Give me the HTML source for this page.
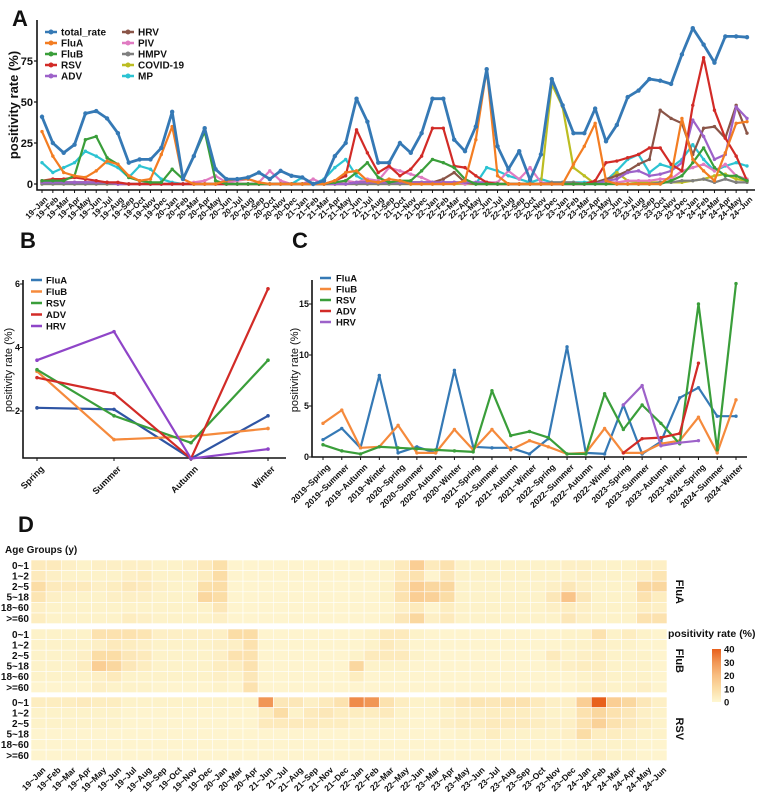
<!DOCTYPE html>
<html><head><meta charset="utf-8"><style>
body{margin:0;background:#fff;}
svg{display:block;font-family:"Liberation Sans",Arial,sans-serif;}
</style></head><body>
<svg id="fig" width="767" height="797" viewBox="0 0 767 797"></svg>
<script>
// ---------- Panel A data ----------
const monthsA = (function(){const m=["Jan","Feb","Mar","Apr","May","Jun","Jul","Aug","Sep","Oct","Nov","Dec"];const r=[];for(let y=19;y<=24;y++){for(let i=0;i<12;i++){if(y===24&&i>5)break;r.push(y+"~"+m[i]);}}return r;})();
const seriesNamesA = ["total_rate","FluA","FluB","RSV","ADV","HRV","PIV","HMPV","COVID-19","MP"];
const colorsA = ["#3579b5","#f37d22","#3a9e3a","#d22b27","#9d62c9","#8a5548","#e07bc2","#7f7f7f","#bcbd22","#2cc3d2"];
const totalRate = [41,25,19,24,43,44.5,40,31,13,15,15,22,44,3,17,34,9,3,3,4,7,3,8,5,4,0,2,17,25,52,38,13,13,25,19,31,52,52,27,20,35,70,23,9,20,2.5,18,64,48,31,31,46,26,36,53,57,64,63,61,79,95,85,74,90,90,89.5];
const fluA = [32,17,7,5,4,8,14,12,5,2,3,18,35,3,0,0,0,2,3,3,1,0,0,0,0,0,0,2,7,8,2,1,3,2,0,0,0,0,0,2,27,70,5,0,0,0,0,0,0,12,23,37,2,0,0,0,0,0,5,40,15,8,2,19,37,38];
const fluB = [2,2,2,5,27,29,16,12,4,2,1,1,9,3,17,32,2,0,0,0,0,0,0,0,0,0,0,1,2,7,13,4,1,2,2,8,15,13,10,3,0,0,0,0,0,0,0,0,0,0,0,0,0,0,0,0,0,0,2,5,13,22,10,5,5,2];
const rsv = [2,3,3,4,3,2,1,1,0,0,0,0,0,0,0,0,0,0,0,0,0,0,0,0,0,0,0,2,5,33,19,7,11,5,9,17,34,34,11,10,5,1,0,0,0,0,0,0,0,0,0,2,13,14,16,18,22,22,12,8,48,77,45,28,17,2];
const adv = [1,1,1,1,1,1,1,0,0,0,0,0,0,0,0,0,0,0,0,0,0,0,0,0,0,0,0,0,0,1,1,1,1,1,1,1,1,1,1,1,1,1,0,0,0,0,0,0,0,0,0,0,2,3,7,8,5,6,8,13,39,29,15,18,47,40];
const hrv = [1,1,1,1,1,1,1,0,0,0,0,0,0,0,0,0,0,0,0,0,0,0,0,0,0,0,0,0,0,1,1,1,1,1,1,1,1,3,7,1,0,0,0,0,0,0,0,0,0,0,0,1,3,5,8,12,15,45,40,37,18,34,35,28,48,31];
const piv = [1,1,1,1,1,1,1,0,0,0,0,0,0,0,1,2,5,1,2,3,1,8,2,0,0,3,0,0,2,1,3,2,10,8,6,4,1,1,1,0,1,1,1,8,3,10,1,0,0,0,0,1,1,1,2,2,2,3,3,8,10,12,8,12,5,3];
const hmpv = [0,0,0,0,0,0,0,0,0,0,0,0,0,0,0,0,0,0,0,0,0,0,0,0,0,0,0,0,0,0,0,0,0,0,0,0,0,0,1,1,0,0,0,0,0,0,0,1,1,1,0,0,0,0,0,0,0,1,1,2,2,3,1,3,1,1];
const covid = [0,0,0,0,0,0,0,0,0,0,0,0,0,0,0,0,0,0,0,0,0,0,0,0,0,0,0,0,0,0,0,0,0,0,0,0,0,0,0,0,0,0,0,0,0,0,0,61,47,10,5,0,0,7,2,1,1,1,1,1,2,3,5,6,3,2];
const mp = [13,7,10,13,20,17,13,10,4,11,9,3,1,0,0,0,0,0,0,0,0,0,0,0,4,0,3,10,15,5,1,1,1,1,1,1,1,1,1,0,0,10,8,5,3,1,3,1,1,1,1,1,2,8,15,18,7,12,10,15,24,15,8,11,13,11];
const ticksA = [0,25,50,75];

// ---------- Panel B data ----------
const seasonsB = ["Spring","Summer","Autumn","Winter"];
const namesB = ["FluA","FluB","RSV","ADV","HRV"];
const bFluA = [2.1,2.05,0.5,1.85];
const bFluB = [3.25,1.1,1.2,1.45];
const bRSV = [3.3,1.85,1.0,3.6];
const bADV = [3.05,2.55,0.5,5.85];
const bHRV = [3.6,4.5,0.5,0.8];
const ticksB = [2,4,6];

// ---------- Panel C data ----------
const seasonsC = ["2019~Spring","2019~Summer","2019~Autumn","2019~Winter","2020~Spring","2020~Summer","2020~Autumn","2020~Winter","2021~Spring","2021~Summer","2021~Autumn","2021~Winter","2022~Spring","2022~Summer","2022~Autumn","2022~Winter","2023~Spring","2023~Summer","2023~Autumn","2023~Winter","2024~Spring","2024~Summer","2024~Winter"];
const cFluA = [1.7,2.8,0.9,8.0,0.4,1.0,0.4,8.5,1.0,0.9,0.9,0.3,1.8,10.8,0.4,0.3,5.1,0.3,1.5,5.8,6.8,4.0,4.0];
const cFluB = [3.3,4.6,0.9,1.0,3.1,0.4,0.4,2.7,0.7,2.7,0.7,1.6,1.0,0.3,0.4,2.8,0.4,0.4,1.3,1.6,3.9,0.4,5.6];
const cRSV = [1.2,0.6,0.3,1.0,0.9,0.8,0.7,0.6,0.5,6.5,2.1,2.5,1.9,0.3,0.3,6.2,2.7,5.1,3.3,1.3,15.0,0.7,17.0];
const cADV = [null,null,null,null,null,null,null,null,null,null,null,null,null,null,null,null,0.4,1.8,1.9,2.3,9.2,null,null];
const cHRV = [null,null,null,null,null,null,null,null,null,null,null,null,null,null,null,null,5.1,7.0,1.1,1.4,1.6,null,null];
const ticksC = [0,5,10,15];

// ---------- Panel D data ----------
const monthsD = ["19~Jan","19~Feb","19~Mar","19~Apr","19~May","19~Jun","19~Jul","19~Aug","19~Sep","19~Oct","19~Nov","19~Dec","20~Jan","20~Mar","20~Apr","21~Jun","21~Jul","21~Aug","21~Sep","21~Nov","21~Dec","22~Jan","22~Feb","22~Mar","22~May","22~Jun","23~Mar","23~Apr","23~May","23~Jun","23~Jul","23~Aug","23~Sep","23~Oct","23~Nov","23~Dec","24~Jan","24~Feb","24~Mar","24~Apr","24~May","24~Jun"];
const ageGroups = ["0~1","1~2","2~5","5~18","18~60",">=60"];
const virusesD = ["FluA","FluB","RSV"];
const hmFluA = [
[5,5,3,2,3,3,3,3,2,2,3,5,9,1,1,1,1,1,1,1,1,1,1,2,5,15,5,8,2,2,2,2,2,2,2,3,3,2,2,2,4,3],
[5,3,2,2,2,2,3,4,2,2,2,4,10,1,1,1,1,1,1,1,1,1,1,1,5,8,1,6,2,2,2,2,2,2,2,2,3,2,2,2,3,7],
[10,5,5,5,3,4,6,5,3,2,2,9,10,1,1,1,1,1,1,1,1,1,1,2,8,15,12,12,2,2,2,2,2,2,3,6,3,2,2,2,12,12],
[7,3,2,2,2,3,3,3,2,2,2,12,10,1,1,1,1,1,1,1,1,1,1,2,8,15,14,10,2,2,2,2,2,2,6,18,6,2,2,2,8,4],
[3,2,2,2,2,2,2,2,2,2,2,2,6,1,1,1,1,1,1,1,1,1,1,1,3,5,1,4,2,2,2,2,2,2,3,4,3,2,2,2,4,3],
[4,2,2,2,2,2,4,3,2,2,2,2,3,1,1,1,1,1,1,1,1,1,1,2,6,12,3,5,2,2,2,2,2,2,2,6,3,2,2,2,8,8]];
const hmFluB = [
[2,2,2,2,8,8,8,7,3,3,3,3,3,10,10,1,1,1,1,1,1,1,2,5,5,2,1,1,1,1,1,1,1,1,1,2,2,8,2,4,2,1],
[2,2,2,2,3,5,4,3,2,2,2,2,3,3,8,1,1,1,1,1,1,1,2,5,3,1,1,1,1,1,1,1,1,1,1,2,2,3,2,2,1,1],
[2,2,2,3,10,10,6,5,2,2,2,2,3,8,8,1,1,1,1,1,1,2,5,5,5,2,1,1,1,1,1,1,1,1,5,2,3,4,2,2,2,1],
[2,2,2,4,15,12,6,4,2,2,2,2,4,4,8,1,1,1,1,1,1,12,2,2,2,1,1,1,1,1,1,1,1,1,2,3,4,4,2,2,2,1],
[2,2,2,2,3,5,2,2,2,2,2,2,3,2,6,1,1,1,1,1,1,4,1,1,1,1,1,1,1,1,1,1,1,1,1,1,2,3,2,2,2,1],
[1,1,1,1,3,2,2,2,1,1,1,1,2,1,8,1,1,1,1,1,1,1,1,1,1,1,1,1,1,1,1,1,1,1,1,1,2,3,2,2,3,1]];
const hmRSV = [
[4,4,4,5,4,4,2,2,2,2,2,2,2,2,2,30,6,6,3,5,8,32,30,8,4,2,2,4,6,7,6,8,8,5,3,3,15,40,15,12,6,3],
[2,2,2,2,2,2,1,1,1,1,1,1,1,1,1,4,10,2,5,6,4,4,4,5,2,1,1,2,3,3,4,4,4,3,2,2,8,12,8,6,3,2],
[2,2,2,2,2,2,1,1,1,1,1,1,1,1,1,5,5,5,5,4,4,2,2,2,2,1,1,3,4,4,5,5,5,4,3,3,8,14,8,6,4,2],
[1,1,1,1,1,1,1,1,1,1,1,1,1,1,1,1,1,1,1,1,1,1,1,1,1,1,1,1,2,2,4,2,2,2,2,3,10,4,4,3,2,2],
[1,1,1,1,1,1,1,1,1,1,1,1,1,1,1,1,1,1,1,1,1,1,1,1,1,1,1,1,1,1,1,1,1,1,1,1,2,2,2,2,1,1],
[1,1,1,1,1,1,1,1,1,1,1,1,1,1,1,1,1,1,1,1,1,1,1,1,1,1,1,1,1,1,1,1,1,1,1,1,2,4,2,2,1,1]];
const legendTicksD = [0,10,20,30,40];

// ---------- helpers ----------
const NS="http://www.w3.org/2000/svg";
const svg=document.getElementById("fig");
function mk(tag,attrs,parent){const e=document.createElementNS(NS,tag);for(const k in attrs)e.setAttribute(k,attrs[k]);(parent||svg).appendChild(e);return e;}
function txt(x,y,s,size,opts,parent){opts=opts||{};const e=mk("text",{x:x,y:y,"font-size":size,"font-weight":opts.w||"bold","text-anchor":opts.a||"start",fill:"#111"},parent);if(opts.rot!==undefined)e.setAttribute("transform","rotate("+opts.rot+" "+x+" "+y+")");if(opts.db)e.setAttribute("dominant-baseline",opts.db);e.textContent=s;return e;}

// ================= PANEL A =================
const gA=mk("g",{});


const lblA=txt(12,26,"A",22,{},gA);


const A={x0:42,x1:747,y0:184,k:1.64,axL:37,axB:190,top:20};
function ax(i){return A.x0+i*(A.x1-A.x0)/(monthsA.length-1);}
function ay(v){return A.y0-v*A.k;}
const axisA=mk("path",{d:"M"+A.axL+" "+A.top+" V"+A.axB+" H755",stroke:"#111","stroke-width":1.6,fill:"none"},gA);


ticksA.forEach(t=>{
  const tl=mk("line",{x1:A.axL-3,x2:A.axL,y1:ay(t),y2:ay(t),stroke:"#111","stroke-width":1.2},gA);
  
  
  const tt=txt(A.axL-4,ay(t)+4,String(t),11,{a:"end"},gA);
  
  
});
monthsA.forEach((m,i)=>{
  const tl=mk("line",{x1:ax(i),x2:ax(i),y1:A.axB,y2:A.axB+3,stroke:"#111","stroke-width":1},gA);
  
  
  const tt=txt(ax(i)+2,A.axB+6,m,8,{a:"end",rot:-45,db:"hanging"},gA);
  
  
});
const ytA=txt(18,105,"positivity rate (%)",13,{a:"middle",rot:-90},gA);


const seriesA=[totalRate,fluA,fluB,rsv,adv,hrv,piv,hmpv,covid,mp];
for(let s=seriesA.length-1;s>=0;s--){
  const d=seriesA[s].map((v,i)=>(i?"L":"M")+ax(i).toFixed(1)+" "+ay(v).toFixed(1)).join(" ");
  const p=mk("path",{d:d,stroke:colorsA[s],"stroke-width":s===0?2.8:2.2,fill:"none","stroke-linejoin":"round"},gA);
  
  
  seriesA[s].forEach((v,i)=>{
    const c=mk("circle",{cx:ax(i),cy:ay(v),r:s===0?2.2:1.7,fill:colorsA[s]},gA);
    
    
  });
}
seriesNamesA.forEach((n,i)=>{
  const col=i<5?0:1,row=i<5?i:i-5;
  const x=col?122:45,y=32+row*11;
  const l=mk("line",{x1:x,x2:x+12,y1:y,y2:y,stroke:colorsA[i],"stroke-width":2.5},gA);
  
  
  const c=mk("circle",{cx:x+6,cy:y,r:2.5,fill:colorsA[i]},gA);
  
  
  const t=txt(x+16,y+3.5,n,10,{},gA);
  
  
});

// ================= PANEL B =================
const gB=mk("g",{});


const lblB=txt(20,248,"B",22,{},gB);


const B={axL:23,axB:458,x0:37,x1:268,y0:474.5,k:31.75};
function bx(i){return B.x0+i*(B.x1-B.x0)/(seasonsB.length-1);}
function by(v){return B.y0-v*B.k;}
const colorsB=["#2f55a4","#f58a3c","#3a9e3a","#d22b27","#8f45c8"];
const legColB=["#3579b5","#f58a3c","#3a9e3a","#d22b27","#8f45c8"];
const axisB=mk("path",{d:"M"+B.axL+" 280 V"+B.axB+" H286",stroke:"#111","stroke-width":1.6,fill:"none"},gB);


ticksB.forEach(t=>{
  const tl=mk("line",{x1:B.axL-3,x2:B.axL,y1:by(t),y2:by(t),stroke:"#111"},gB);
  
  
  const tt=txt(B.axL-3,by(t)+3,String(t),9,{a:"end"},gB);
  
  
});
seasonsB.forEach((s,i)=>{
  const tl=mk("line",{x1:bx(i),x2:bx(i),y1:B.axB,y2:B.axB+3,stroke:"#111"},gB);
  
  
  const tt=txt(bx(i)+3,B.axB+7,s,9,{a:"end",rot:-45,db:"hanging"},gB);
  
  
});
const ytB=txt(12,370,"positivity rate (%)",11,{a:"middle",rot:-90,w:"normal"},gB);


[bFluA,bFluB,bRSV,bADV,bHRV].forEach((arr,s)=>{
  const d=arr.map((v,i)=>(i?"L":"M")+bx(i)+" "+by(v).toFixed(1)).join(" ");
  const p=mk("path",{d:d,stroke:colorsB[s],"stroke-width":2.2,fill:"none"},gB);
  
  
  arr.forEach((v,i)=>{const c=mk("circle",{cx:bx(i),cy:by(v),r:1.8,fill:colorsB[s]},gB);
    
    });
});
namesB.forEach((n,i)=>{
  const y=280+i*11.5;
  const l=mk("line",{x1:31,x2:42,y1:y,y2:y,stroke:legColB[i],"stroke-width":2.5},gB);
  
  
  const t=txt(46,y+3.5,n,9.5,{},gB);
  
  
});

// ================= PANEL C =================
const gC=mk("g",{});


const lblC=txt(292,248,"C",22,{},gC);


const C={axL:312,axB:457,x0:323,x1:736,y0:457,k:10.2};
function cx_(i){return C.x0+i*(C.x1-C.x0)/(seasonsC.length-1);}
function cy_(v){return C.y0-v*C.k;}
const colorsC=["#3579b5","#f58a3c","#3a9e3a","#d22b27","#9d62c9"];
const axisC=mk("path",{d:"M"+C.axL+" 280 V"+C.axB+" H747",stroke:"#111","stroke-width":1.6,fill:"none"},gC);


ticksC.forEach(t=>{
  const tl=mk("line",{x1:C.axL-3,x2:C.axL,y1:cy_(t),y2:cy_(t),stroke:"#111"},gC);
  
  
  const tt=txt(C.axL-3,cy_(t)+3,String(t),9,{a:"end"},gC);
  
  
});
seasonsC.forEach((s,i)=>{
  const tl=mk("line",{x1:cx_(i),x2:cx_(i),y1:C.axB,y2:C.axB+3,stroke:"#111"},gC);
  
  
  const tt=txt(cx_(i)+3,C.axB+6,s,8.5,{a:"end",rot:-45,db:"hanging"},gC);
  
  
});
const ytC=txt(298,370,"positivity rate (%)",11,{a:"middle",rot:-90,w:"normal"},gC);


[cFluA,cFluB,cRSV,cADV,cHRV].forEach((arr,s)=>{
  let d="",pen=false;
  arr.forEach((v,i)=>{if(v===null){pen=false;return;}d+=(pen?"L":"M")+cx_(i).toFixed(1)+" "+cy_(v).toFixed(1)+" ";pen=true;});
  const p=mk("path",{d:d,stroke:colorsC[s],"stroke-width":2.2,fill:"none","stroke-linejoin":"round"},gC);
  
  
  arr.forEach((v,i)=>{if(v===null)return;const c=mk("circle",{cx:cx_(i),cy:cy_(v),r:1.7,fill:colorsC[s]},gC);
    
    });
});
namesB.forEach((n,i)=>{
  const y=278+i*11;
  const l=mk("line",{x1:320,x2:331,y1:y,y2:y,stroke:colorsC[i],"stroke-width":2.5},gC);
  
  
  const t=txt(336,y+3.5,n,9.5,{},gC);
  
  
});

// ================= PANEL D =================
const gD=mk("g",{});


const lblD=txt(18,532,"D",22,{},gD);


const ag=txt(5,553,"Age Groups (y)",10,{},gD);


const D={x0:31,x1:667,blockTop:[560,629,697],rowH:10.6};
const cw=(D.x1-D.x0)/monthsD.length;
const stops=[[0,[254,247,210]],[10,[251,221,166]],[20,[248,190,130]],[30,[241,150,85]],[40,[232,96,28]]];
function hcol(v){v=Math.max(0,Math.min(40,v));for(let i=0;i<stops.length-1;i++){const a=stops[i],b=stops[i+1];if(v<=b[0]){const t=(v-a[0])/(b[0]-a[0]);return "rgb("+a[1].map((c,j)=>Math.round(c+(b[1][j]-c)*t)).join(",")+")";}}return "rgb(232,96,28)";}
[hmFluA,hmFluB,hmRSV].forEach((mat,b)=>{
  const top=D.blockTop[b];
  mat.forEach((row,r)=>{
    row.forEach((v,c)=>{
      const rc=mk("rect",{x:D.x0+c*cw,y:top+r*D.rowH,width:cw,height:D.rowH,fill:hcol(v),stroke:"#fff","stroke-width":0.6},gD);
      
      
    });
    const rl=txt(D.x0-2,top+r*D.rowH+D.rowH/2+3.5,ageGroups[r],10,{a:"end"},gD);
    
    
  });
  const fl=txt(676,top+3*D.rowH,virusesD[b],11,{a:"middle",rot:90},gD);
  
  
});
monthsD.forEach((m,i)=>{
  const t=txt(D.x0+i*cw+cw/2+3,766,m,8.5,{a:"end",rot:-45,db:"hanging"},gD);
  
  
});
const lt=txt(668,637,"positivity rate (%)",10.5,{},gD);


const defs=mk("defs",{});
const grad=mk("linearGradient",{id:"cb",x1:0,y1:1,x2:0,y2:0},defs);
stops.forEach(s=>{const st=mk("stop",{offset:(s[0]/40),"stop-color":"rgb("+s[1].join(",")+")"},grad);});
const cbTop=649,cbBot=702;
const cb=mk("rect",{x:712,y:cbTop,width:9,height:cbBot-cbTop,fill:"url(#cb)"},gD);


legendTicksD.forEach(t=>{
  const y=cbBot-(t/40)*(cbBot-cbTop);
  const tt=txt(724,y+3.5,String(t),9.5,{},gD);
  
  
});
</script>
</body></html>
